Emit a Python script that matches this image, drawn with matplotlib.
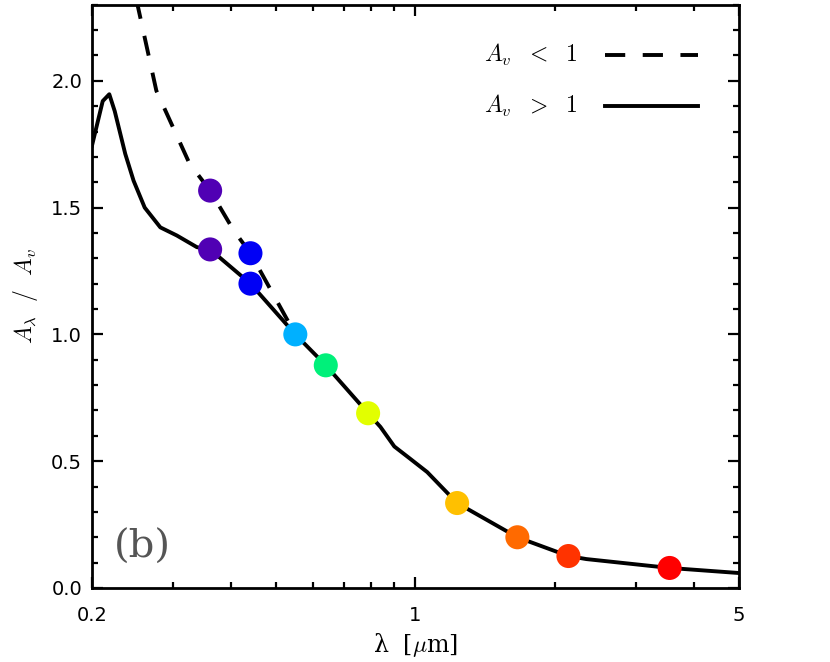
import numpy as np
import matplotlib
matplotlib.use("Agg")
import matplotlib.pyplot as plt
from matplotlib.ticker import FixedLocator, FixedFormatter, NullFormatter

# extinction curve, Av > 1 (solid)
curve_hi_x = [0.2, 0.211, 0.218, 0.224, 0.236, 0.246, 0.260, 0.281, 0.305, 0.337,
              0.36, 0.44, 0.55, 0.64, 0.79, 0.84, 0.90, 0.97, 1.06, 1.23,
              1.66, 2.14, 2.34, 3.54, 5.0]
curve_hi_y = [1.744, 1.92, 1.947, 1.88, 1.712, 1.606, 1.50, 1.422, 1.39, 1.344,
              1.335, 1.20, 1.00, 0.878, 0.689, 0.635, 0.558, 0.512, 0.457, 0.335,
              0.20, 0.126, 0.114, 0.079, 0.059]

# extinction curve, Av < 1 (dashed)
curve_lo_x = [0.244, 0.2755, 0.325, 0.36, 0.405, 0.44, 0.55]
curve_lo_y = [2.40, 1.961, 1.673, 1.567, 1.409, 1.32, 1.00]

# band points
band_x = [0.36, 0.36, 0.44, 0.44, 0.55, 0.64, 0.79, 1.23, 1.66, 2.14, 3.54]
band_y = [1.567, 1.335, 1.32, 1.20, 1.00, 0.878, 0.689, 0.335, 0.20, 0.126, 0.079]
band_colors = ['#5000b4', '#5000b4', '#0000f5', '#0000f5', '#00b0ff', '#00f07a',
               '#e2ff00', '#ffc000', '#ff6a00', '#ff3300', '#ff0000']

x_major = [0.2, 1, 5]
x_major_labels = ['0.2', '1', '5']
x_minor = [0.3, 0.4, 0.5, 0.6, 0.7, 0.8, 0.9, 2, 3, 4]

plt.rcParams['mathtext.fontset'] = 'cm'

fig = plt.figure(figsize=(8.3, 6.62), dpi=100)
ax = fig.add_axes([0.1108, 0.1118, 0.7796, 0.8811])

lw = 2.8
dash = [5.2, 4.5]
ax.plot(curve_hi_x, curve_hi_y, color='black', lw=lw, solid_joinstyle='round', zorder=2)
ax.plot(curve_lo_x, curve_lo_y, color='black', lw=lw, dashes=dash, zorder=2)
ax.scatter(band_x, band_y, s=300, c=band_colors, edgecolors='none', zorder=3)

ax.set_xscale('log')
ax.set_xlim(0.2, 5)
ax.set_ylim(0, 2.3)

ax.xaxis.set_major_locator(FixedLocator(x_major))
ax.xaxis.set_major_formatter(FixedFormatter(x_major_labels))
ax.xaxis.set_minor_locator(FixedLocator(x_minor))
ax.xaxis.set_minor_formatter(NullFormatter())
ax.set_yticks(np.arange(0, 2.01, 0.5))
ax.set_yticklabels(['0.0', '0.5', '1.0', '1.5', '2.0'])
ax.set_yticks(np.arange(0, 2.31, 0.1), minor=True)

ax.tick_params(which='both', direction='in', top=True, right=True, width=1.6,
               labelsize=14)
ax.tick_params(which='major', length=8)
ax.tick_params(which='minor', length=4.5)
ax.tick_params(axis='x', which='major', pad=13)
ax.tick_params(axis='y', which='major', pad=7)
for sp in ax.spines.values():
    sp.set_linewidth(2)

ax.set_xlabel('λ  [$\\mu$m]', fontsize=17, family='DejaVu Serif', labelpad=4)
ax.set_ylabel(r'$A_\lambda\ \ /\ \ A_v$', fontsize=17, labelpad=8)

# legend drawn by hand
ax.text(0.751, 0.914, r'$A_v\ \ <\ \ 1$', transform=ax.transAxes, fontsize=17,
        ha='right', va='center')
ax.text(0.751, 0.826, r'$A_v\ \ >\ \ 1$', transform=ax.transAxes, fontsize=17,
        ha='right', va='center')
ax.plot([0.793, 0.937], [0.914, 0.914], transform=ax.transAxes, color='black',
        lw=lw, dashes=dash)
ax.plot([0.793, 0.937], [0.826, 0.826], transform=ax.transAxes, color='black',
        lw=lw)

ax.text(0.078, 0.069, '(b)', transform=ax.transAxes, fontsize=29, color='#555555',
        family='DejaVu Serif', ha='center', va='center')

fig.savefig('out.png', dpi=100)
